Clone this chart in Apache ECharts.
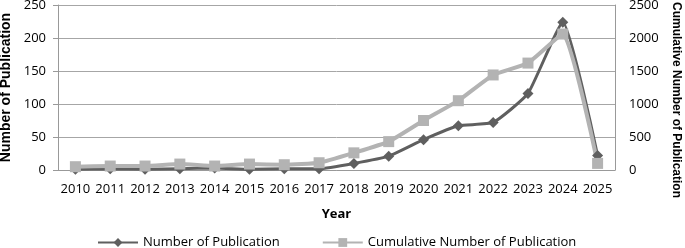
<!DOCTYPE html>
<html>
<head>
<meta charset="utf-8">
<script src="https://cdn.jsdelivr.net/npm/echarts@6/dist/echarts.min.js"></script>
<style>
  html, body { margin: 0; padding: 0; background: #fff; }
  #chart { width: 685px; height: 248px; }
</style>
</head>
<body>
<div id="chart"></div>
<script>
// 数据
const years = ['2010', '2011', '2012', '2013', '2014', '2015', '2016', '2017',
  '2018', '2019', '2020', '2021', '2022', '2023', '2024', '2025'];
const publications = [1, 2, 1, 2, 3, 1, 2, 2, 10, 21, 46, 67, 72, 116, 224, 22];
const cumulative = [50, 60, 60, 90, 60, 90, 80, 110, 260, 430, 750, 1050, 1440, 1620, 2060, 100];
const leftTicks = [0, 50, 100, 150, 200, 250];
const rightTicks = [0, 500, 1000, 1500, 2000, 2500];

const FONT = '"Open Sans", "Liberation Sans", sans-serif';
const TITLE_FONT = '"Liberation Sans", sans-serif';
const chart = echarts.init(document.getElementById('chart'), null, { renderer: 'canvas' });

chart.setOption({
  animation: false,
  grid: { left: 58, right: 70, top: 5, bottom: 78, outerBoundsMode: 'none' },
  legend: {
    top: 231,
    left: 92,
    itemGap: 42,
    itemWidth: 40,
    itemHeight: 11,
    textStyle: { fontFamily: FONT, fontSize: 13, color: '#000' },
    data: ['Number of Publication', 'Cumulative Number of Publication']
  },
  // 右侧标题单独放置，位置比轴中心略低
  graphic: [{
    type: 'text',
    x: 676,
    y: 100,
    rotation: -Math.PI / 2,
    style: {
      text: 'Cumulative Number of Publication',
      fontFamily: TITLE_FONT,
      fontSize: 12,
      fontWeight: 'bold',
      fill: '#000',
      align: 'center',
      verticalAlign: 'middle'
    }
  }],
  xAxis: {
    type: 'category',
    data: years,
    boundaryGap: true,
    name: 'Year',
    nameLocation: 'middle',
    nameGap: 38,
    nameTextStyle: { fontFamily: FONT, fontSize: 13, fontWeight: 'bold', color: '#000' },
    axisLine: { lineStyle: { color: '#999', width: 1 } },
    axisTick: { show: false },
    axisLabel: { fontFamily: FONT, fontSize: 13, color: '#000', margin: 13, interval: 0 }
  },
  yAxis: [{
    type: 'value',
    min: leftTicks[0],
    max: leftTicks[leftTicks.length - 1],
    interval: 50,
    name: 'Number of Publication',
    nameLocation: 'middle',
    nameGap: 44,
    nameTextStyle: { fontFamily: TITLE_FONT, fontSize: 14, fontWeight: 'bold', color: '#000' },
    axisLine: { show: true, lineStyle: { color: '#999' } },
    axisTick: { show: true, length: 5, lineStyle: { color: '#999' } },
    axisLabel: { fontFamily: FONT, fontSize: 13, color: '#000', margin: 12 },
    splitLine: { lineStyle: { color: '#a6a6a6', width: 1 } }
  }, {
    type: 'value',
    min: rightTicks[0],
    max: rightTicks[rightTicks.length - 1],
    interval: 500,
    axisLine: { show: true, lineStyle: { color: '#999' } },
    axisTick: { show: false },
    axisLabel: { fontFamily: FONT, fontSize: 13, color: '#000', margin: 14, formatter: v => String(v) },
    splitLine: { show: false }
  }],
  series: [{
    name: 'Number of Publication',
    type: 'line',
    yAxisIndex: 0,
    data: publications,
    smooth: 0.15,
    symbol: 'diamond',
    symbolSize: 11,
    lineStyle: { color: '#5f5f5f', width: 3 },
    itemStyle: { color: '#5f5f5f' }
  }, {
    name: 'Cumulative Number of Publication',
    type: 'line',
    yAxisIndex: 1,
    data: cumulative,
    smooth: 0.15,
    symbol: 'rect',
    symbolSize: 11,
    lineStyle: { color: '#b3b3b3', width: 4 },
    itemStyle: { color: '#b3b3b3' }
  }]
});
</script>
</body>
</html>
